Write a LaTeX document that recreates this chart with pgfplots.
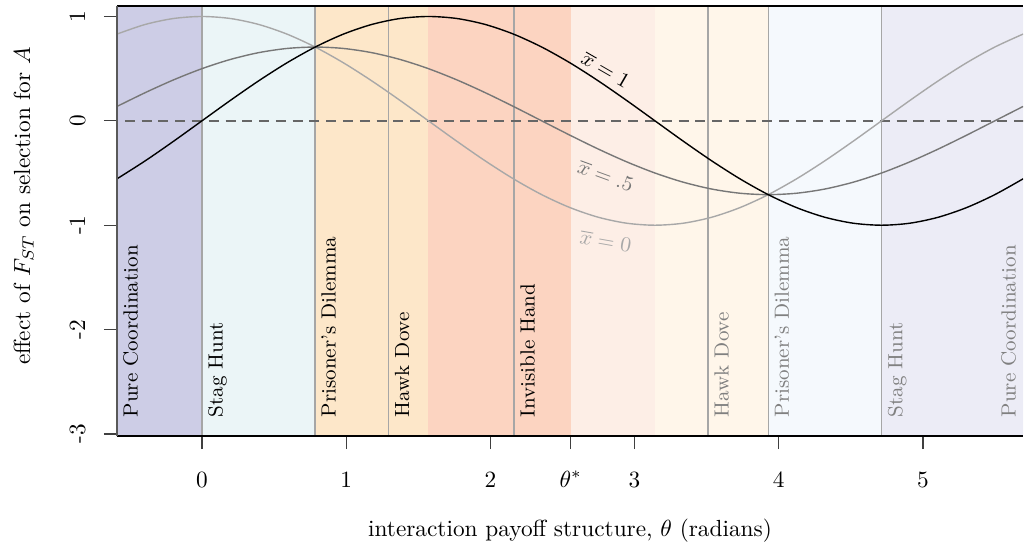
\documentclass[border=0pt]{standalone}
\usepackage{pgfplots}
\usepackage{pgfplotstable}
\pgfplotsset{compat=1.18}

\definecolor{pcoord}{HTML}{CDCDE6}
\definecolor{stag}{HTML}{EBF5F7}
\definecolor{pdil}{HTML}{FDE7C9}
\definecolor{invis}{HTML}{FCD4C1}
\definecolor{pinkish}{HTML}{FDEEE6}
\definecolor{cream}{HTML}{FFF6EA}
\definecolor{paleblue}{HTML}{F5F9FD}
\definecolor{palelav}{HTML}{ECECF6}
\definecolor{midgray}{HTML}{777777}
\definecolor{ltgray}{HTML}{A8A8A8}
\definecolor{divline}{HTML}{A6A6A6}

% theta, xbar=1, xbar=.5, xbar=0
\pgfplotstableread{
t        one      half     zero
-0.58905 -0.55557  0.13795  0.83147
-0.39270 -0.38268  0.27060  0.92388
-0.19635 -0.19509  0.39285  0.98079
 0.00000  0.00000  0.50000  1.00000
 0.19635  0.19509  0.58794  0.98079
 0.39270  0.38268  0.65328  0.92388
 0.58905  0.55557  0.69352  0.83147
 0.78540  0.70711  0.70711  0.70711
 0.98175  0.83147  0.69352  0.55557
 1.17810  0.92388  0.65328  0.38268
 1.37445  0.98079  0.58794  0.19509
 1.57080  1.00000  0.50000  0.00000
 1.76715  0.98079  0.39285 -0.19509
 1.96350  0.92388  0.27060 -0.38268
 2.15984  0.83147  0.13795 -0.55557
 2.35619  0.70711  0.00000 -0.70711
 2.55254  0.55557 -0.13795 -0.83147
 2.74889  0.38268 -0.27060 -0.92388
 2.94524  0.19509 -0.39285 -0.98079
 3.14159  0.00000 -0.50000 -1.00000
 3.33794 -0.19509 -0.58794 -0.98079
 3.53429 -0.38268 -0.65328 -0.92388
 3.73064 -0.55557 -0.69352 -0.83147
 3.92699 -0.70711 -0.70711 -0.70711
 4.12334 -0.83147 -0.69352 -0.55557
 4.31969 -0.92388 -0.65328 -0.38268
 4.51604 -0.98079 -0.58794 -0.19509
 4.71239 -1.00000 -0.50000  0.00000
 4.90874 -0.98079 -0.39285  0.19509
 5.10509 -0.92388 -0.27060  0.38268
 5.30144 -0.83147 -0.13795  0.55557
 5.49779 -0.70711  0.00000  0.70711
 5.69414 -0.55557  0.13795  0.83147
}\curves

\begin{document}
\begin{tikzpicture}
\begin{axis}[
  scale only axis, width=388.8pt, height=184.5pt,
  xmin=-0.589, xmax=5.694, ymin=-3.02, ymax=1.10,
  clip mode=individual,
  axis line style={draw=none},
  tick align=outside, major tick length=5.6pt,
  xtick pos=bottom, ytick pos=left,
  tick style={black!75, line width=0.5pt},
  xtick={0,1,2,2.557,3,4,5},
  xticklabels={0,1,2,$\theta^*$,3,4,5},
  ytick={-3,-2,-1,0,1},
  yticklabels={-3,-2,-1,0,1},
  xticklabel style={anchor=base}, xticklabel shift=16.4pt,
  yticklabel style={rotate=90, anchor=base}, yticklabel shift=8.1pt,
  xlabel={interaction payoff structure, $\theta$ (radians)},
  ylabel={effect of $F_{ST}$ on selection for $A$},
  xlabel style={at={(axis description cs:0.5,0)}, anchor=base, yshift=-43pt},
  ylabel style={at={([xshift=-37.3pt]axis description cs:0,0.535)}, anchor=base},
]
% background regions
\addplot[draw=none, fill=pcoord]   coordinates {(-1,-4) (0,-4) (0,2) (-1,2)} -- cycle;
\addplot[draw=none, fill=stag]     coordinates {(0,-4) (0.7854,-4) (0.7854,2) (0,2)} -- cycle;
\addplot[draw=none, fill=pdil]     coordinates {(0.7854,-4) (1.5708,-4) (1.5708,2) (0.7854,2)} -- cycle;
\addplot[draw=none, fill=invis]    coordinates {(1.5708,-4) (2.557,-4) (2.557,2) (1.5708,2)} -- cycle;
\addplot[draw=none, fill=pinkish]  coordinates {(2.557,-4) (3.1416,-4) (3.1416,2) (2.557,2)} -- cycle;
\addplot[draw=none, fill=cream]    coordinates {(3.1416,-4) (3.9270,-4) (3.9270,2) (3.1416,2)} -- cycle;
\addplot[draw=none, fill=paleblue] coordinates {(3.9270,-4) (4.7124,-4) (4.7124,2) (3.9270,2)} -- cycle;
\addplot[draw=none, fill=palelav]  coordinates {(4.7124,-4) (6,-4) (6,2) (4.7124,2)} -- cycle;
% region dividers
\addplot[divline, line width=0.6pt] coordinates {(0,-4) (0,2)};
\addplot[divline, line width=0.6pt] coordinates {(0.7854,-4) (0.7854,2)};
\addplot[divline, line width=0.6pt] coordinates {(1.295,-4) (1.295,2)};
\addplot[divline, line width=0.6pt] coordinates {(2.164,-4) (2.164,2)};
\addplot[divline, line width=0.6pt] coordinates {(3.509,-4) (3.509,2)};
\addplot[divline, line width=0.6pt] coordinates {(3.9270,-4) (3.9270,2)};
\addplot[divline, line width=0.6pt] coordinates {(4.7124,-4) (4.7124,2)};
% zero line
\addplot[black!60, line width=0.7pt, dash pattern=on 4.3pt off 2.9pt] coordinates {(-1,0) (6,0)};
% curves
\addplot[ltgray, line width=0.6pt, smooth] table[x=t, y=zero] {\curves};
\addplot[midgray, line width=0.6pt, smooth] table[x=t, y=half] {\curves};
\addplot[black, line width=0.6pt, smooth] table[x=t, y=one] {\curves};
% curve labels
\node[rotate=-30, font=\small] at (axis cs:2.80,0.49) {$\overline{x}=1$};
\node[rotate=-20, font=\small, text=midgray] at (axis cs:2.80,-0.525) {$\overline{x}=.5$};
\node[rotate=-10, font=\small, text=ltgray] at (axis cs:2.80,-1.15) {$\overline{x}=0$};
% region labels
\begin{scope}[every node/.style={rotate=90, anchor=north west, inner sep=2.5pt, font=\fontsize{8.8}{10}\selectfont}]
\node at (axis cs:-0.589,-2.9) {Pure Coordination};
\node at (axis cs:0,-2.9) {Stag Hunt};
\node at (axis cs:0.7854,-2.9) {Prisoner's Dilemma};
\node at (axis cs:1.295,-2.9) {Hawk Dove};
\node at (axis cs:2.164,-2.9) {Invisible Hand};
\node[text=black!50] at (axis cs:3.509,-2.9) {Hawk Dove};
\node[text=black!50] at (axis cs:3.9270,-2.9) {Prisoner's Dilemma};
\node[text=black!50] at (axis cs:4.7124,-2.9) {Stag Hunt};
\node[text=black!50] at (axis cs:5.4978,-2.9) {Pure Coordination};
\end{scope}
% frame
\draw[black, line width=0.8pt] (rel axis cs:0,1) -- (rel axis cs:1,1);
\draw[black, line width=0.8pt] (rel axis cs:0,0) -- (rel axis cs:1,0);
\draw[black!65, line width=1pt] (rel axis cs:0,0) -- (rel axis cs:0,1);
\coordinate (sw) at (rel axis cs:0,0);
\coordinate (ne) at (rel axis cs:1,1);
\end{axis}
\pgfresetboundingbox
\path ([shift={(-50.2pt,-50.6pt)}]sw) rectangle ([shift={(0.4pt,2.6pt)}]ne);
\end{tikzpicture}
\end{document}
